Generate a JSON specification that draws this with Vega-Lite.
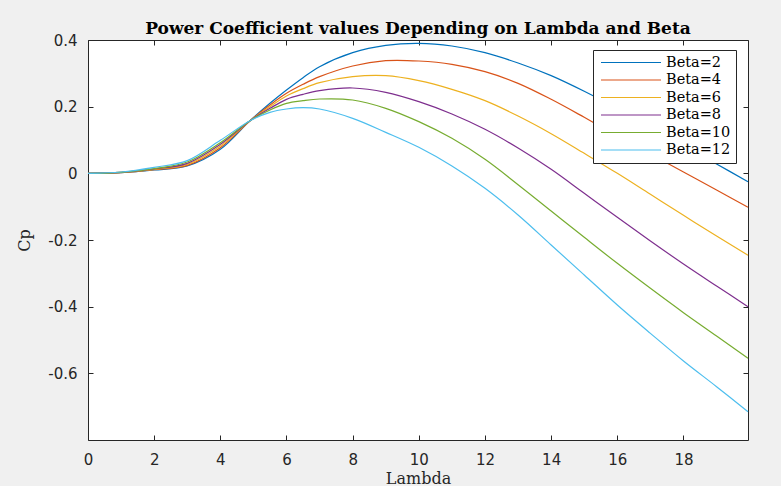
{
  "$schema": "https://vega.github.io/schema/vega-lite/v6.json",
  "width": 660,
  "height": 400,
  "autosize": {"type": "none"},
  "padding": {"left": 88, "top": 40, "right": 33, "bottom": 46},
  "background": "#f0f0f0",
  "config": {"view": {"fill": "white", "stroke": null}},
  "title": {
    "text": "Power Coefficient values Depending on Lambda and Beta",
    "font": "DejaVu Serif",
    "fontSize": 17,
    "fontWeight": "bold",
    "color": "#000000",
    "anchor": "middle",
    "baseline": "alphabetic",
    "offset": 7,
    "dy": 25
  },
  "data": {
    "values": [
      {"lambda": 0, "Beta=2": 0, "Beta=4": 0, "Beta=6": 0, "Beta=8": 0, "Beta=10": 0, "Beta=12": 0},
      {"lambda": 1, "Beta=2": 0.002, "Beta=4": 0.002, "Beta=6": 0.003, "Beta=8": 0.003, "Beta=10": 0.003, "Beta=12": 0.004},
      {"lambda": 2, "Beta=2": 0.010, "Beta=4": 0.011, "Beta=6": 0.012, "Beta=8": 0.013, "Beta=10": 0.014, "Beta=12": 0.018},
      {"lambda": 3, "Beta=2": 0.022, "Beta=4": 0.024, "Beta=6": 0.027, "Beta=8": 0.030, "Beta=10": 0.034, "Beta=12": 0.038},
      {"lambda": 4, "Beta=2": 0.072, "Beta=4": 0.077, "Beta=6": 0.082, "Beta=8": 0.087, "Beta=10": 0.092, "Beta=12": 0.099},
      {"lambda": 4.9, "Beta=2": 0.158, "Beta=4": 0.158, "Beta=6": 0.158, "Beta=8": 0.158, "Beta=10": 0.158, "Beta=12": 0.158},
      {"lambda": 5.5, "Beta=2": 0.210, "Beta=4": 0.205, "Beta=6": 0.200, "Beta=8": 0.195, "Beta=10": 0.190, "Beta=12": 0.183},
      {"lambda": 6, "Beta=2": 0.250, "Beta=4": 0.240, "Beta=6": 0.232, "Beta=8": 0.222, "Beta=10": 0.210, "Beta=12": 0.193},
      {"lambda": 6.5, "Beta=2": 0.287, "Beta=4": 0.267, "Beta=6": 0.254, "Beta=8": 0.237, "Beta=10": 0.218, "Beta=12": 0.197},
      {"lambda": 7, "Beta=2": 0.320, "Beta=4": 0.290, "Beta=6": 0.272, "Beta=8": 0.248, "Beta=10": 0.223, "Beta=12": 0.193},
      {"lambda": 8, "Beta=2": 0.362, "Beta=4": 0.322, "Beta=6": 0.290, "Beta=8": 0.256, "Beta=10": 0.220, "Beta=12": 0.165},
      {"lambda": 9, "Beta=2": 0.384, "Beta=4": 0.338, "Beta=6": 0.293, "Beta=8": 0.243, "Beta=10": 0.195, "Beta=12": 0.123},
      {"lambda": 10, "Beta=2": 0.390, "Beta=4": 0.337, "Beta=6": 0.278, "Beta=8": 0.215, "Beta=10": 0.155, "Beta=12": 0.078},
      {"lambda": 11, "Beta=2": 0.382, "Beta=4": 0.327, "Beta=6": 0.252, "Beta=8": 0.178, "Beta=10": 0.105, "Beta=12": 0.022},
      {"lambda": 12, "Beta=2": 0.362, "Beta=4": 0.305, "Beta=6": 0.218, "Beta=8": 0.132, "Beta=10": 0.042, "Beta=12": -0.045},
      {"lambda": 13, "Beta=2": 0.331, "Beta=4": 0.270, "Beta=6": 0.172, "Beta=8": 0.076, "Beta=10": -0.034, "Beta=12": -0.125},
      {"lambda": 14, "Beta=2": 0.293, "Beta=4": 0.222, "Beta=6": 0.119, "Beta=8": 0.012, "Beta=10": -0.113, "Beta=12": -0.215},
      {"lambda": 15, "Beta=2": 0.246, "Beta=4": 0.168, "Beta=6": 0.060, "Beta=8": -0.060, "Beta=10": -0.192, "Beta=12": -0.305},
      {"lambda": 16, "Beta=2": 0.194, "Beta=4": 0.112, "Beta=6": 0.000, "Beta=8": -0.132, "Beta=10": -0.270, "Beta=12": -0.395},
      {"lambda": 17, "Beta=2": 0.139, "Beta=4": 0.058, "Beta=6": -0.063, "Beta=8": -0.203, "Beta=10": -0.345, "Beta=12": -0.480},
      {"lambda": 18, "Beta=2": 0.083, "Beta=4": 0.004, "Beta=6": -0.126, "Beta=8": -0.272, "Beta=10": -0.418, "Beta=12": -0.563},
      {"lambda": 19, "Beta=2": 0.028, "Beta=4": -0.050, "Beta=6": -0.188, "Beta=8": -0.338, "Beta=10": -0.488, "Beta=12": -0.640},
      {"lambda": 19.95, "Beta=2": -0.025, "Beta=4": -0.102, "Beta=6": -0.246, "Beta=8": -0.400, "Beta=10": -0.555, "Beta=12": -0.715}
    ]
  },
  "transform": [
    {"fold": ["Beta=2", "Beta=4", "Beta=6", "Beta=8", "Beta=10", "Beta=12"], "as": ["series", "cp"]}
  ],
  "layer": [
    {
      "mark": {"type": "line", "strokeWidth": 1.2, "interpolate": "catmull-rom"},
      "encoding": {
        "x": {
          "field": "lambda",
          "type": "quantitative",
          "scale": {"domain": [0, 19.95], "nice": false, "zero": false},
          "axis": {
            "orient": "bottom",
            "values": [0, 2, 4, 6, 8, 10, 12, 14, 16, 18],
            "format": "d",
            "title": "Lambda",
            "titleFont": "DejaVu Serif",
            "titleFontSize": 16,
            "titleFontWeight": "normal",
            "titleColor": "#262626",
            "titleBaseline": "alphabetic",
            "titlePadding": 16,
            "labelFont": "DejaVu Sans",
            "labelFontSize": 15,
            "labelColor": "#262626",
            "labelPadding": 17,
            "labelFlush": false,
            "labelOverlap": false,
            "tickSize": -5,
            "tickColor": "#262626",
            "domainColor": "#262626",
            "grid": false
          }
        },
        "y": {
          "field": "cp",
          "type": "quantitative",
          "scale": {"domain": [-0.8, 0.4], "nice": false, "zero": false},
          "axis": {
            "orient": "left",
            "values": [-0.6, -0.4, -0.2, 0, 0.2, 0.4],
            "labelExpr": "datum.value == 0 ? '0' : replace(format(datum.value, '.1f'), '\u2212', '-')",
            "title": "Cp",
            "titleFont": "DejaVu Serif",
            "titleFontSize": 16,
            "titleFontWeight": "normal",
            "titleColor": "#262626",
            "titleBaseline": "alphabetic",
            "titlePadding": 18,
            "labelFont": "DejaVu Sans",
            "labelFontSize": 15,
            "labelColor": "#262626",
            "labelPadding": 16,
            "labelFlush": false,
            "labelOverlap": false,
            "tickSize": -5,
            "tickColor": "#262626",
            "domainColor": "#262626",
            "grid": false
          }
        },
        "color": {
          "field": "series",
          "type": "nominal",
          "scale": {
            "domain": ["Beta=2", "Beta=4", "Beta=6", "Beta=8", "Beta=10", "Beta=12"],
            "range": ["#0072BD", "#D95319", "#EDB120", "#7E2F8E", "#77AC30", "#4DBEEE"]
          },
          "legend": {
            "orient": "none",
            "legendX": 505,
            "legendY": 10,
            "direction": "vertical",
            "title": null,
            "symbolType": "stroke",
            "symbolSize": 3600,
            "symbolStrokeWidth": 1.2,
            "clipHeight": 15,
            "rowPadding": 1.5,
            "padding": 5,
            "symbolOffset": 2,
            "labelOffset": 4,
            "labelFont": "DejaVu Serif",
            "labelFontSize": 14.5,
            "labelColor": "#000000",
            "labelLimit": 200,
            "strokeColor": "#262626",
            "fillColor": "white"
          }
        }
      }
    },
    {
      "mark": {"type": "line", "opacity": 0},
      "encoding": {
        "x": {
          "field": "lambda",
          "type": "quantitative",
          "axis": {
            "orient": "top",
            "values": [0, 2, 4, 6, 8, 10, 12, 14, 16, 18],
            "labels": false,
            "title": null,
            "tickSize": -5,
            "tickColor": "#262626",
            "domainColor": "#262626",
            "grid": false
          }
        },
        "y": {
          "field": "cp",
          "type": "quantitative",
          "axis": {
            "orient": "right",
            "values": [-0.6, -0.4, -0.2, 0, 0.2, 0.4],
            "labels": false,
            "title": null,
            "tickSize": -5,
            "tickColor": "#262626",
            "domainColor": "#262626",
            "grid": false
          }
        },
        "detail": {"field": "series"}
      }
    }
  ]
}
